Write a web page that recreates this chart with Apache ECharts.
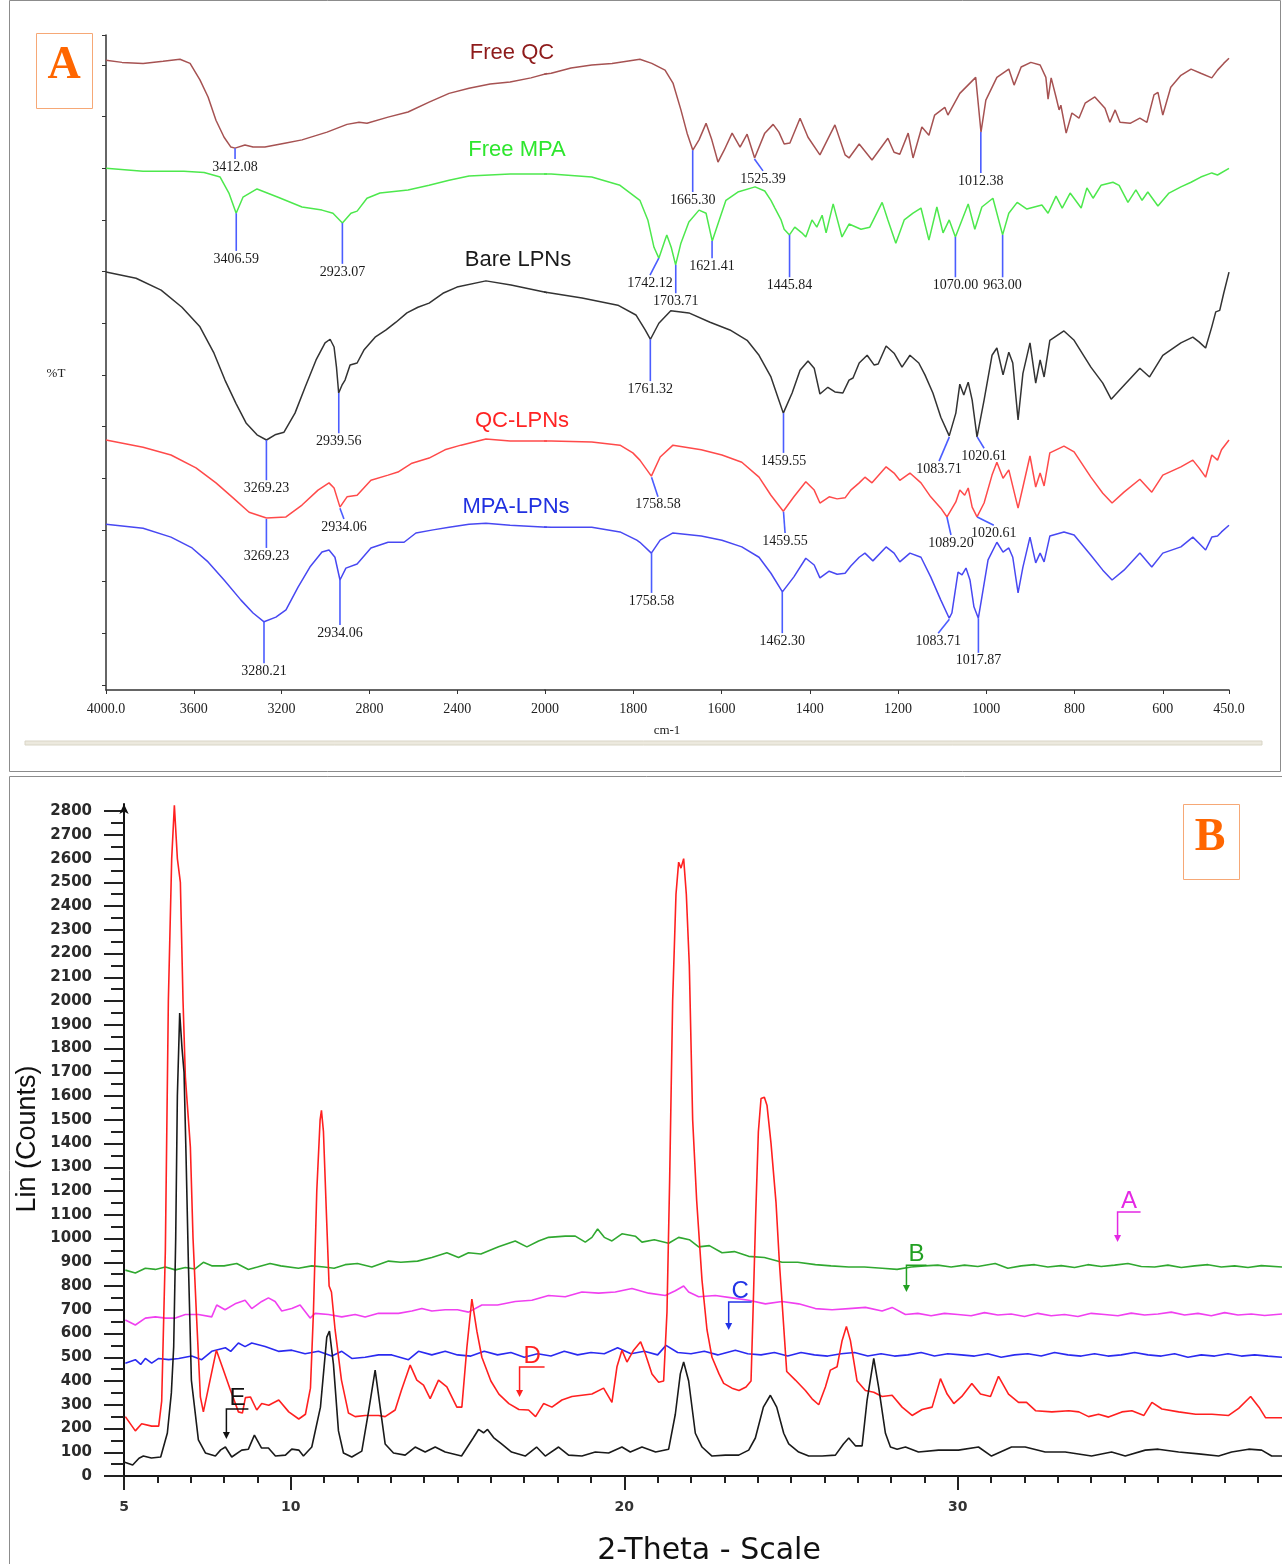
<!DOCTYPE html>
<html><head><meta charset="utf-8">
<script src="https://cdn.jsdelivr.net/npm/echarts@6/dist/echarts.min.js"></script>
<style>html,body{margin:0;padding:0;background:#fff}#c{width:1282px;height:1564px}</style>
</head><body><div id="c"></div><script>
// ---------------- Panel A : FTIR (wavenumber cm-1, %T arbitrary units) ----------------
const ftirFreeQC = [[4000,121.9],[3927,121.5],[3831,121.3],[3740,121.7],[3663,122.1],[3617,121.3],[3572,118.1],[3535,114.8],[3499,110.3],[3462,107.0],[3431,105.1],[3412,104.9],[3367,105.5],[3330,105.1],[3276,105.1],[3180,105.9],[3107,106.5],[2993,108.0],[2902,109.5],[2847,109.9],[2811,109.7],[2715,110.9],[2624,111.9],[2528,113.8],[2437,115.5],[2346,116.5],[2250,117.3],[2159,117.7],[2064,118.5],[1986,119.4],[1941,120.4],[1894,121.0],[1848,121.3],[1785,122.1],[1758,121.3],[1728,120.0],[1710,117.5],[1692,112.3],[1678,107.8],[1665,104.5],[1651,106.5],[1635,109.7],[1622,106.5],[1608,102.2],[1594,104.5],[1576,107.8],[1558,105.1],[1542,107.6],[1525,103.0],[1502,107.8],[1483,109.5],[1470,108.0],[1458,105.7],[1445,105.9],[1422,110.7],[1404,107.0],[1377,103.6],[1343,109.4],[1320,103.6],[1311,103.0],[1288,105.7],[1259,102.6],[1223,106.8],[1209,104.1],[1196,103.7],[1177,107.8],[1166,103.0],[1146,109.0],[1130,107.4],[1117,111.3],[1094,112.8],[1087,111.3],[1060,115.5],[1024,118.6],[1012,108.0],[1001,114.2],[976,118.6],[949,120.2],[937,117.1],[921,120.6],[899,121.5],[878,121.0],[865,118.6],[860,114.4],[853,118.5],[842,114.8],[835,112.3],[831,113.2],[819,107.8],[806,111.7],[790,110.7],[776,113.6],[754,114.8],[731,112.6],[720,109.9],[708,112.3],[697,109.9],[674,109.7],[652,110.7],[636,109.9],[620,115.2],[611,115.7],[600,111.3],[582,116.7],[559,119.0],[536,120.2],[514,119.4],[489,118.5],[476,120.0],[462,121.3],[450,122.3]];
const ftirFreeMPA = [[4000,101.0],[3831,100.4],[3645,100.4],[3553,100.2],[3480,99.3],[3440,96.2],[3407,92.3],[3376,95.4],[3312,97.0],[3216,95.4],[3107,93.5],[3016,92.9],[2966,92.3],[2923,90.4],[2884,92.3],[2856,92.7],[2811,95.2],[2752,96.2],[2624,96.8],[2528,97.7],[2437,98.7],[2346,99.5],[2159,99.9],[1986,99.9],[1894,99.3],[1830,97.7],[1785,94.8],[1767,91.0],[1753,85.7],[1742,83.6],[1728,87.1],[1724,88.1],[1714,85.7],[1704,82.3],[1692,86.5],[1674,90.6],[1651,92.9],[1635,92.3],[1621,86.9],[1603,91.5],[1590,94.8],[1563,96.4],[1524,97.4],[1502,96.6],[1488,94.8],[1479,93.3],[1465,91.0],[1458,89.2],[1446,88.1],[1434,89.6],[1418,88.5],[1409,87.7],[1395,91.0],[1384,89.6],[1372,91.9],[1363,88.5],[1347,94.1],[1327,87.7],[1311,90.2],[1284,89.2],[1264,89.6],[1236,94.4],[1223,91.0],[1205,86.5],[1186,91.0],[1166,92.3],[1148,93.3],[1130,87.1],[1112,93.5],[1098,88.5],[1084,91.0],[1070,87.7],[1041,94.1],[1026,89.2],[1010,93.5],[985,95.2],[963,88.1],[949,92.3],[930,94.4],[908,93.1],[874,93.9],[860,92.3],[842,95.6],[828,93.3],[810,96.2],[785,93.3],[772,97.2],[758,95.2],[740,97.7],[713,98.3],[699,97.7],[679,94.4],[661,96.8],[647,94.8],[634,96.4],[611,93.7],[586,96.2],[559,97.4],[536,98.3],[514,99.3],[489,100.1],[476,99.7],[450,101.0]];
const ftirBare = [[4000,80.9],[3863,79.7],[3749,77.4],[3654,74.1],[3572,70.3],[3508,65.2],[3458,60.0],[3408,55.5],[3362,51.7],[3312,49.4],[3269,48.4],[3230,49.4],[3189,49.9],[3139,53.6],[3093,58.6],[3043,63.9],[3002,67.2],[2979,67.9],[2961,66.4],[2950,62.5],[2940,57.5],[2925,59.0],[2911,60.0],[2888,62.9],[2856,63.3],[2825,65.8],[2774,68.3],[2724,69.7],[2679,71.2],[2629,73.0],[2579,74.1],[2528,74.9],[2465,76.8],[2401,78.0],[2269,79.2],[2155,78.4],[1998,77.0],[1916,75.9],[1835,74.5],[1794,72.6],[1773,69.7],[1761,67.9],[1742,71.0],[1715,73.4],[1674,73.0],[1626,71.2],[1581,69.7],[1542,67.7],[1515,64.8],[1488,60.6],[1470,56.1],[1460,53.6],[1440,57.5],[1422,61.9],[1404,63.7],[1390,62.3],[1377,57.3],[1359,58.6],[1343,57.7],[1325,57.5],[1311,60.0],[1302,60.4],[1288,63.3],[1270,64.8],[1254,62.9],[1245,63.1],[1227,66.6],[1209,65.2],[1191,62.5],[1173,64.8],[1153,63.3],[1139,61.0],[1121,57.5],[1103,52.8],[1084,49.2],[1069,53.6],[1060,59.2],[1051,57.1],[1041,59.6],[1032,56.1],[1021,49.0],[1005,56.1],[987,64.8],[976,66.2],[962,61.0],[949,65.4],[940,63.3],[928,52.3],[917,61.3],[901,67.2],[888,59.4],[878,63.9],[869,60.6],[856,67.7],[824,69.5],[801,67.7],[763,62.5],[736,59.4],[717,56.3],[692,58.6],[652,62.3],[630,60.6],[600,64.8],[559,67.2],[532,68.3],[518,67.4],[503,66.2],[489,70.3],[480,73.2],[471,73.5],[462,76.8],[450,80.9]];
const ftirQCLPN = [[4000,48.4],[3831,47.0],[3704,45.5],[3590,43.0],[3499,40.1],[3421,37.2],[3348,34.4],[3269,33.3],[3180,33.5],[3107,35.8],[3034,38.7],[2984,40.1],[2961,39.1],[2934,35.4],[2902,37.4],[2856,37.7],[2793,40.6],[2715,41.6],[2670,42.2],[2606,43.9],[2528,44.9],[2456,46.5],[2383,47.4],[2269,48.6],[2159,48.2],[1986,48.2],[1894,48.0],[1830,47.4],[1801,45.9],[1785,44.5],[1759,41.4],[1739,45.1],[1710,47.4],[1646,46.5],[1599,45.5],[1554,44.1],[1515,41.2],[1488,37.7],[1460,34.6],[1436,37.4],[1409,40.3],[1390,38.7],[1377,36.2],[1356,37.4],[1338,37.0],[1320,37.2],[1307,38.7],[1288,40.1],[1275,41.2],[1259,40.1],[1227,43.2],[1209,42.0],[1196,40.6],[1173,42.0],[1148,40.1],[1126,37.4],[1103,35.2],[1089,33.5],[1069,36.4],[1060,38.7],[1049,37.7],[1041,39.1],[1032,35.4],[1021,33.5],[1005,36.2],[987,41.6],[976,44.1],[962,41.0],[949,42.6],[928,35.2],[917,39.3],[901,45.3],[888,39.3],[878,42.0],[869,39.5],[856,45.9],[824,47.2],[801,46.1],[763,41.2],[736,38.1],[715,36.2],[688,38.3],[652,40.8],[625,38.3],[600,41.6],[559,43.2],[532,44.5],[518,43.0],[503,41.2],[489,45.5],[476,44.5],[467,46.5],[450,48.4]];
const ftirMPALPN = [[4000,32.1],[3831,31.3],[3704,29.6],[3608,27.5],[3535,24.8],[3462,21.3],[3385,17.4],[3330,14.9],[3280,13.2],[3226,14.1],[3180,15.5],[3125,19.9],[3071,23.8],[3016,26.7],[2984,27.1],[2957,25.7],[2934,21.3],[2907,23.6],[2856,24.4],[2793,27.5],[2715,28.6],[2642,28.6],[2588,30.4],[2510,31.0],[2437,31.5],[2346,32.1],[2269,32.3],[2159,31.9],[1986,31.5],[1894,31.5],[1830,30.6],[1792,29.0],[1785,28.6],[1759,26.5],[1739,29.0],[1710,30.4],[1646,29.8],[1599,29.0],[1554,27.7],[1515,25.7],[1488,22.6],[1462,19.0],[1436,21.9],[1409,25.5],[1390,24.2],[1377,21.7],[1356,23.0],[1338,22.4],[1320,22.6],[1307,24.0],[1288,25.7],[1275,26.5],[1257,25.0],[1227,27.7],[1209,26.5],[1196,24.8],[1173,26.5],[1148,25.7],[1126,21.9],[1103,17.4],[1084,13.9],[1078,14.9],[1064,22.8],[1055,22.3],[1046,23.6],[1037,21.3],[1028,16.1],[1018,13.9],[1010,18.0],[996,25.2],[976,28.6],[962,26.7],[949,27.5],[940,25.7],[928,18.8],[917,23.8],[901,29.6],[888,24.6],[878,26.5],[869,24.8],[856,29.8],[824,30.6],[801,30.0],[763,26.1],[736,23.2],[715,21.3],[688,23.2],[652,26.5],[625,23.8],[600,26.5],[559,27.7],[532,29.6],[518,28.4],[503,27.1],[489,29.6],[476,29.8],[467,30.6],[450,31.9]];
const ftirNames = ['Free QC','Free MPA','Bare LPNs','QC-LPNs','MPA-LPNs'];
// [label, peak wavenumber, peak %T, leader end wavenumber, leader end %T]
const ftirPeaks = [
 ['3412.08',3412.08,104.9,3412.08,102.8],['1665.30',1665.30,104.5,1665.30,96.4],['1525.39',1525.39,102.8,1506,100.5],['1012.38',1012.38,108.0,1012.38,100.1],
 ['3406.59',3406.59,92.3,3406.59,85.0],['2923.07',2923.07,90.4,2923.07,82.5],['1742.12',1742.12,83.6,1762,80.3],['1703.71',1703.71,82.3,1703.71,76.8],['1621.41',1621.41,86.9,1621.41,83.6],['1445.84',1445.84,88.1,1445.84,79.9],['1070.00',1070.00,87.7,1070.00,79.9],['963.00',963.00,88.1,963.00,79.9],
 ['3269.23',3269.23,48.4,3269.23,40.6],['2939.56',2939.56,57.5,2939.56,49.7],['1761.32',1761.32,67.9,1761.32,59.8],['1459.55',1459.55,53.6,1459.55,45.9],['1083.71',1083.71,49.0,1107,44.3],['1020.61',1020.61,49.0,1005,46.8],
 ['3269.23',3269.23,33.1,3269.23,27.5],['2934.06',2934.06,35.2,2916,33.1],['1758.58',1758.58,41.2,1744,37.4],['1459.55',1459.55,34.5,1456,30.4],['1089.20',1089.20,33.5,1080,30.0],['1020.61',1020.61,33.5,983,31.9],
 ['3280.21',3280.21,13.2,3280.21,5.2],['2934.06',2934.06,21.3,2934.06,12.6],['1758.58',1758.58,26.5,1758.58,18.8],['1462.30',1462.30,19.0,1462.30,11.0],['1083.71',1083.71,13.7,1109,11.0],['1017.87',1017.87,13.9,1017.87,7.2]
];
const ftirTicksLeft = [2000,2400,2800,3200,3600,4000];
const ftirTicksRight = [450,600,800,1000,1200,1400,1600,1800];
const ftirYTicks = [1,11,21,31,41,51,61,71,81,91,101,111,121,126.8];

// ---------------- Panel B : XRD (2-theta, counts) ----------------
const xrdE = [[5.0,59],[5.26,46],[5.45,75],[5.58,84],[5.82,76],[6.1,80],[6.3,181],[6.42,350],[6.49,544],[6.55,1000],[6.6,1600],[6.67,1950],[6.74,1800],[6.8,1700],[6.86,1350],[6.93,900],[7.02,404],[7.23,152],[7.44,97],[7.74,84],[7.9,110],[8.04,122],[8.23,80],[8.53,109],[8.73,113],[8.91,172],[9.12,118],[9.33,118],[9.54,84],[9.84,88],[10.03,113],[10.24,109],[10.38,84],[10.63,122],[10.89,290],[11.08,585],[11.16,610],[11.28,470],[11.43,190],[11.58,97],[11.83,80],[12.13,105],[12.33,270],[12.53,446],[12.68,290],[12.83,135],[13.08,97],[13.43,88],[13.73,122],[14.03,101],[14.33,122],[14.63,101],[15.12,84],[15.48,162],[15.63,196],[15.78,182],[15.9,196],[16.08,162],[16.32,135],[16.62,101],[17.03,84],[17.37,122],[17.63,84],[18.03,122],[18.33,88],[18.73,84],[19.13,101],[19.53,97],[19.93,122],[20.18,101],[20.53,122],[20.94,101],[21.33,113],[21.53,260],[21.68,430],[21.78,480],[21.93,400],[22.13,180],[22.33,122],[22.63,84],[23.03,88],[23.43,88],[23.73,109],[23.93,160],[24.17,290],[24.38,340],[24.57,290],[24.78,180],[24.93,135],[25.23,101],[25.53,84],[25.93,84],[26.33,88],[26.57,135],[26.73,160],[26.93,127],[27.13,127],[27.28,320],[27.48,495],[27.63,370],[27.83,180],[27.98,122],[28.18,113],[28.43,122],[28.82,101],[29.42,109],[30.02,109],[30.62,122],[31.01,84],[31.61,122],[32.02,122],[32.62,101],[33.22,101],[34.01,84],[34.61,101],[35.02,84],[35.62,109],[36.01,113],[36.62,101],[37.22,93],[37.82,84],[38.21,101],[38.72,113],[39.11,109],[39.41,84],[39.72,84]];
const xrdD = [[5.04,250],[5.34,190],[5.53,220],[5.83,210],[6.04,210],[6.13,315],[6.24,950],[6.33,2000],[6.43,2600],[6.51,2825],[6.6,2600],[6.69,2500],[6.77,2000],[6.84,1680],[6.99,1385],[7.07,1000],[7.17,686],[7.29,333],[7.38,270],[7.53,370],[7.77,530],[7.98,446],[8.19,362],[8.43,270],[8.55,265],[8.64,330],[8.79,333],[8.98,278],[9.13,305],[9.34,298],[9.64,320],[9.94,270],[10.24,240],[10.44,260],[10.59,370],[10.68,690],[10.78,1200],[10.88,1500],[10.92,1540],[10.98,1450],[11.07,1100],[11.15,800],[11.22,775],[11.33,615],[11.52,404],[11.73,265],[11.93,250],[12.23,255],[12.63,255],[12.83,250],[13.13,278],[13.32,362],[13.58,467],[13.78,404],[13.98,383],[14.18,326],[14.43,404],[14.68,375],[14.98,290],[15.13,290],[15.28,540],[15.43,745],[15.58,610],[15.73,500],[16.0,400],[16.24,345],[16.54,305],[16.84,280],[17.13,278],[17.34,250],[17.58,305],[17.83,290],[18.13,320],[18.43,335],[18.73,340],[19.03,345],[19.38,370],[19.63,310],[19.78,460],[19.93,530],[20.08,480],[20.28,530],[20.49,565],[20.63,515],[20.83,430],[21.03,395],[21.18,400],[21.28,690],[21.36,1246],[21.45,2000],[21.55,2450],[21.63,2585],[21.7,2560],[21.78,2600],[21.86,2450],[21.95,2150],[22.05,1500],[22.17,1160],[22.33,825],[22.48,615],[22.63,500],[22.84,430],[22.98,390],[23.23,370],[23.44,360],[23.65,375],[23.8,400],[23.86,690],[23.94,1100],[24.02,1450],[24.1,1590],[24.2,1595],[24.28,1560],[24.4,1400],[24.55,1150],[24.65,900],[24.72,755],[24.87,440],[25.13,404],[25.43,360],[25.63,325],[25.83,300],[26.03,375],[26.18,446],[26.38,460],[26.53,570],[26.66,630],[26.78,570],[26.98,400],[27.23,360],[27.48,353],[27.73,335],[28.03,340],[28.33,290],[28.63,255],[28.93,280],[29.23,290],[29.48,410],[29.68,345],[29.88,305],[30.12,335],[30.42,390],[30.68,345],[30.98,335],[31.22,420],[31.52,345],[31.82,310],[32.06,310],[32.33,275],[32.82,270],[33.33,275],[33.63,270],[33.92,250],[34.22,260],[34.52,248],[34.92,270],[35.22,275],[35.58,255],[35.82,310],[36.12,282],[36.62,270],[37.13,260],[37.62,260],[38.12,255],[38.42,285],[38.78,335],[39.03,290],[39.23,245],[39.72,245]];
const xrdC = [[5.04,475],[5.34,490],[5.5,470],[5.64,495],[5.83,475],[6.04,495],[6.34,490],[6.64,495],[7.03,505],[7.33,490],[7.63,525],[8.04,540],[8.2,525],[8.43,560],[8.63,545],[8.83,560],[9.23,545],[9.63,525],[10.03,530],[10.43,515],[10.83,525],[11.23,505],[11.53,525],[11.83,495],[12.23,500],[12.63,510],[13.03,510],[13.53,490],[13.83,525],[14.23,510],[14.63,525],[15.0,510],[15.4,505],[15.8,525],[16.2,510],[16.6,520],[17.0,500],[17.4,515],[17.8,505],[18.2,525],[18.6,510],[19.0,520],[19.4,515],[19.8,540],[20.2,515],[20.6,525],[21.0,510],[21.25,550],[21.6,520],[22.0,515],[22.4,525],[22.8,510],[23.33,530],[23.7,515],[24.1,510],[24.5,520],[24.9,505],[25.3,520],[25.7,510],[26.1,505],[26.5,515],[26.9,520],[27.3,505],[27.7,515],[28.1,505],[28.5,510],[28.9,520],[29.3,505],[29.7,515],[30.1,510],[30.5,505],[30.9,515],[31.3,500],[31.7,510],[32.1,515],[32.5,505],[32.9,520],[33.3,510],[33.7,505],[34.1,515],[34.5,505],[34.9,510],[35.3,520],[35.7,510],[36.1,505],[36.5,515],[36.9,500],[37.3,510],[37.7,505],[38.1,515],[38.5,505],[38.9,510],[39.3,505],[39.72,500]];
const xrdA = [[5.04,657],[5.34,636],[5.64,665],[5.94,670],[6.24,665],[6.54,665],[6.84,680],[7.23,680],[7.63,670],[7.78,720],[8.03,700],[8.33,725],[8.63,740],[8.83,705],[9.13,735],[9.33,750],[9.53,735],[9.73,695],[10.03,705],[10.28,720],[10.58,665],[10.73,685],[11.13,680],[11.53,670],[11.93,680],[12.23,670],[12.63,685],[13.23,685],[13.63,695],[13.93,705],[14.23,695],[14.63,700],[15.0,700],[15.33,690],[15.73,720],[16.2,720],[16.73,735],[17.23,740],[17.73,760],[18.23,755],[18.73,775],[19.23,770],[19.73,775],[20.23,790],[20.73,770],[21.23,760],[21.53,780],[21.78,800],[21.93,775],[22.23,755],[22.73,760],[23.23,750],[23.73,740],[24.23,725],[24.73,735],[25.23,725],[25.73,705],[26.23,700],[26.73,705],[27.23,710],[27.73,695],[28.03,710],[28.43,680],[28.8,685],[29.2,675],[29.6,685],[30.0,680],[30.4,675],[30.8,688],[31.2,678],[31.6,682],[32.0,672],[32.4,685],[32.8,675],[33.2,680],[33.6,672],[34.0,685],[34.4,680],[34.8,675],[35.2,686],[35.6,678],[36.0,682],[36.4,690],[36.8,678],[37.2,685],[37.6,675],[38.0,688],[38.4,678],[38.8,682],[39.2,676],[39.72,682]];
const xrdB = [[5.04,867],[5.34,855],[5.64,875],[5.94,870],[6.24,880],[6.54,868],[6.84,878],[7.13,872],[7.38,900],[7.63,885],[8.0,885],[8.38,895],[8.73,870],[9.0,880],[9.38,895],[9.7,885],[10.23,875],[10.63,885],[11.0,880],[11.3,875],[11.63,890],[12.0,895],[12.43,880],[12.93,905],[13.3,900],[13.8,905],[14.23,920],[14.68,940],[15.03,920],[15.33,940],[15.7,935],[16.23,965],[16.73,990],[17.08,965],[17.43,990],[17.73,1005],[18.23,1010],[18.53,1010],[18.83,985],[19.03,1005],[19.2,1040],[19.4,1005],[19.63,990],[19.93,1020],[20.33,1010],[20.53,985],[20.9,995],[21.33,980],[21.63,1005],[21.95,995],[22.23,965],[22.55,970],[22.93,940],[23.3,945],[23.73,925],[24.2,920],[24.73,900],[25.2,900],[25.73,890],[26.2,885],[26.73,880],[27.2,880],[27.73,875],[28.18,870],[28.6,880],[29.0,885],[29.4,888],[29.8,880],[30.2,888],[30.6,882],[31.12,895],[31.5,875],[31.9,885],[32.3,890],[32.7,880],[33.1,886],[33.5,878],[33.9,890],[34.3,882],[34.7,888],[35.1,895],[35.5,882],[35.9,880],[36.3,888],[36.7,878],[37.1,885],[37.5,890],[37.9,880],[38.3,885],[38.7,878],[39.1,886],[39.72,880]];
// [letter, arrow 2theta, bracket top counts, arrow tip counts, bracket end 2theta]
const xrdMarks = [['A',34.79,1112,985,35.48],['B',28.46,888,775,29.06],['C',23.13,733,615,23.82],['D',16.86,459,333,17.61],['E',8.07,282,156,8.73]];
const xrdYTicks = [0,100,200,300,400,500,600,700,800,900,1000,1100,1200,1300,1400,1500,1600,1700,1800,1900,2000,2100,2200,2300,2400,2500,2600,2700,2800];
const xrdYMinor = [50,150,250,350,450,550,650,750,850,950,1050,1150,1250,1350,1450,1550,1650,1750,1850,1950,2050,2150,2250,2350,2450,2550,2650,2750];
const xrdXLabels = [5,10,20,30];
const xrdXMinor = [5,6,7,8,9,10,11,12,13,14,15,16,17,18,19,20,21,22,23,24,25,26,27,28,29,30,31,32,33,34,35,36,37,38,39];

// ---------------- styles ----------------
const ftirColors = ['#a65252','#4de84d','#333333','#ff4a4a','#4848f2'];
const ftirLabelColors = ['#8e1b1b','#2ee62e','#1a1a1a','#ff2424','#2030e0'];
const xrdMarkColors = ['#e428e4','#22a022','#2233e6','#ff2020','#111111'];

const chart = echarts.init(document.getElementById('c'), null, {renderer:'canvas', width:1282, height:1564});
const ftirSets = [ftirFreeQC, ftirFreeMPA, ftirBare, ftirQCLPN, ftirMPALPN];
const series = [];
ftirSets.forEach((d, i) => {
  [0,1].forEach(g => series.push({type:'line', name:ftirNames[i], xAxisIndex:g, yAxisIndex:g, data:d,
    showSymbol:false, symbol:'none', clip:true, silent:true, z:2,
    lineStyle:{color:ftirColors[i], width:1.5}}));
});
function annSeries(list, gi) {
  return {type:'custom', xAxisIndex:gi, yAxisIndex:gi, clip:false, silent:true, z:4,
    data: list.map(p => [p[1], p[2], p[3], p[4]]),
    encode:{x:[0,2], y:[1,3]},
    renderItem: (params, api) => {
      const a = api.coord([api.value(0), api.value(1)]);
      const b = api.coord([api.value(2), api.value(3)]);
      return {type:'group', children:[
        {type:'line', shape:{x1:a[0], y1:a[1], x2:b[0], y2:b[1]}, style:{stroke:'#4b5dff', lineWidth:1.6}},
        {type:'text', x:b[0], y:b[1] + 1, style:{text:list[params.dataIndex][0], font:'14px "Liberation Serif"', fill:'#1a1a1a',
          align:'center', verticalAlign:'top', textAlign:'center', textVerticalAlign:'top'}}
      ]};
    }};
}
series.push(annSeries(ftirPeaks.filter(p => p[1] > 2000), 0));
series.push(annSeries(ftirPeaks.filter(p => p[1] <= 2000), 1));

const xrdSets = [[xrdB,'#30a830'],[xrdA,'#f040f0'],[xrdC,'#2a2af0'],[xrdD,'#ff2020'],[xrdE,'#1a1a1a']];
xrdSets.forEach(s => series.push({type:'line', xAxisIndex:2, yAxisIndex:2, data:s[0], showSymbol:false, symbol:'none',
  clip:true, silent:true, z:2, lineStyle:{color:s[1], width:1.6}}));
series.push({type:'custom', xAxisIndex:2, yAxisIndex:2, clip:false, silent:true, z:5,
  data: xrdMarks.map(m => [m[1], m[2], m[3], m[4]]), encode:{x:[0,3], y:[1,2]},
  renderItem: (params, api) => {
    const m = xrdMarks[params.dataIndex];
    const col = xrdMarkColors[params.dataIndex];
    const top = api.coord([api.value(0), api.value(1)]);
    const tip = api.coord([api.value(0), api.value(2)]);
    const end = api.coord([api.value(3), api.value(1)]);
    return {type:'group', children:[
      {type:'polyline', shape:{points:[[end[0], top[1]], [top[0], top[1]], [tip[0], tip[1] - 6]]}, style:{stroke:col, lineWidth:1.5, fill:'none'}},
      {type:'polygon', shape:{points:[[tip[0] - 3.5, tip[1] - 7], [tip[0] + 3.5, tip[1] - 7], [tip[0], tip[1]]]}, style:{fill:col}},
      {type:'text', x:(top[0] + end[0]) / 2, y:top[1] + 1, style:{text:m[0], font:'24px "Liberation Sans"', fill:col,
        align:'center', verticalAlign:'bottom', textAlign:'center', textVerticalAlign:'bottom'}}
    ]};
  }});

const serif = '"Liberation Serif"';
const txt = (x, y, text, font, fill, extra) => Object.assign({type:'text', x:x, y:y, silent:true, z:10,
  style:{text:text, font:font, fill:fill, align:'center', verticalAlign:'middle', textAlign:'center', textVerticalAlign:'middle'}}, extra || {});
const nameY = [53, 150, 260, 421, 507], nameX = [512, 517, 518, 522, 516];

chart.setOption({
  animation:false,
  backgroundColor:'#ffffff',
  grid:[
    {left:106, top:35, width:439, height:655, containLabel:false, outerBoundsMode:'none'},
    {left:545, top:35, width:684, height:655, containLabel:false, outerBoundsMode:'none'},
    {left:124, top:804, width:1158, height:672, containLabel:false, outerBoundsMode:'none'}
  ],
  xAxis:[
    {gridIndex:0, type:'value', min:2000, max:4000, inverse:true, position:'bottom',
      axisLine:{show:true, onZero:false, lineStyle:{color:'#333', width:1.5}},
      axisTick:{show:true, customValues:ftirTicksLeft, length:4, lineStyle:{color:'#333'}},
      axisLabel:{show:true, customValues:ftirTicksLeft, margin:12, showMinLabel:true, showMaxLabel:true,
        formatter:v => v === 4000 ? '4000.0' : String(v), fontFamily:'Liberation Serif', fontSize:14, color:'#222'},
      splitLine:{show:false}},
    {gridIndex:1, type:'value', min:450, max:2000, inverse:true, position:'bottom',
      axisLine:{show:true, onZero:false, lineStyle:{color:'#333', width:1.5}},
      axisTick:{show:true, customValues:ftirTicksRight, length:4, lineStyle:{color:'#333'}},
      axisLabel:{show:true, customValues:ftirTicksRight, margin:12, showMinLabel:true, showMaxLabel:true,
        formatter:v => v === 450 ? '450.0' : String(v), fontFamily:'Liberation Serif', fontSize:14, color:'#222'},
      splitLine:{show:false}},
    {gridIndex:2, type:'value', min:5, max:39.72, position:'bottom',
      axisLine:{show:true, onZero:false, lineStyle:{color:'#151515', width:2}},
      axisTick:{show:true, customValues:xrdXMinor, length:7, lineStyle:{color:'#222', width:2}},
      axisLabel:{show:false}, splitLine:{show:false}},
    {gridIndex:2, type:'value', min:5, max:39.72, position:'bottom',
      axisLine:{show:false, onZero:false},
      axisTick:{show:true, customValues:xrdXLabels, length:14, lineStyle:{color:'#222', width:2}},
      axisLabel:{show:true, customValues:xrdXLabels, margin:24, showMinLabel:true, formatter:v => String(v),
        fontFamily:'DejaVu Sans', fontWeight:'bold', fontSize:14, color:'#333'},
      splitLine:{show:false}}
  ],
  yAxis:[
    {gridIndex:0, type:'value', min:0, max:126.8, position:'left',
      axisLine:{show:true, onZero:false, lineStyle:{color:'#333', width:1.5}},
      axisTick:{show:true, customValues:ftirYTicks, length:4, lineStyle:{color:'#333'}},
      axisLabel:{show:false}, splitLine:{show:false}},
    {gridIndex:1, type:'value', min:0, max:126.8, show:false, splitLine:{show:false}},
    {gridIndex:2, type:'value', min:0, max:2830, position:'left',
      axisLine:{show:true, onZero:false, symbol:['none','arrow'], symbolSize:[7,10], lineStyle:{color:'#111', width:2}},
      axisTick:{show:true, customValues:xrdYTicks, length:20, lineStyle:{color:'#222', width:2}},
      axisLabel:{show:true, customValues:xrdYTicks, margin:32, showMinLabel:true, showMaxLabel:true, formatter:v => String(v),
        fontFamily:'DejaVu Sans', fontWeight:'bold', fontSize:15, color:'#2a2a2a'},
      splitLine:{show:false}},
    {gridIndex:2, type:'value', min:0, max:2830, position:'left',
      axisLine:{show:false, onZero:false},
      axisTick:{show:true, customValues:xrdYMinor, length:13, lineStyle:{color:'#222', width:2}},
      axisLabel:{show:false}, splitLine:{show:false}}
  ],
  series: series,
  graphic:[
    {type:'rect', silent:true, shape:{x:9.5, y:0.5, width:1271, height:771}, style:{fill:'none', stroke:'#8c8c8c', lineWidth:1}},
    {type:'rect', silent:true, shape:{x:9.5, y:776.5, width:1282, height:800}, style:{fill:'none', stroke:'#8c8c8c', lineWidth:1}},
    {type:'rect', silent:true, shape:{x:25, y:741, width:1237, height:4}, style:{fill:'#ece9de', stroke:'#d9d5c6', lineWidth:1}},
    {type:'rect', silent:true, shape:{x:36.5, y:33.5, width:56, height:75}, style:{fill:'#ffffff', stroke:'#f6a876', lineWidth:1}},
    txt(64, 66, 'A', 'bold 46px ' + serif, '#ff6600'),
    {type:'rect', silent:true, shape:{x:1183.5, y:804.5, width:56, height:75}, style:{fill:'#ffffff', stroke:'#f6a876', lineWidth:1}},
    txt(1210, 838, 'B', 'bold 46px ' + serif, '#ff6600'),
    ...ftirNames.map((n, i) => txt(nameX[i], nameY[i], n, '22px "Liberation Sans"', ftirLabelColors[i])),
    txt(56, 374, '%T', '13px ' + serif, '#222'),
    txt(667, 731, 'cm-1', '13px ' + serif, '#222'),
    txt(28, 1139, 'Lin (Counts)', '27px "Liberation Sans"', '#111', {rotation:Math.PI / 2}),
    txt(709, 1551, '2-Theta - Scale', '30px "DejaVu Sans"', '#111')
  ]
});
</script></body></html>
